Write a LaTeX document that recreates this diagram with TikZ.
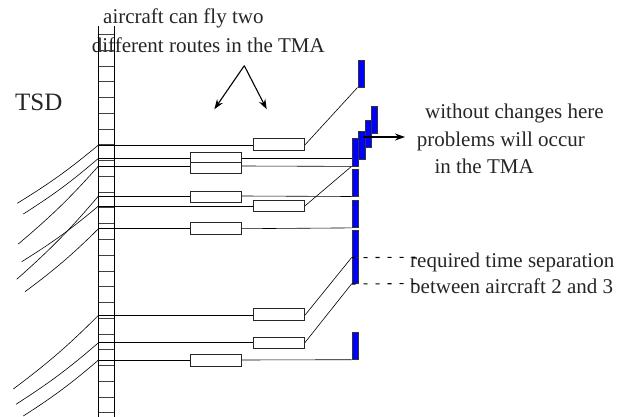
\documentclass[tikz,border=0pt]{standalone}
\usepackage{fontspec}
\setmainfont{Liberation Serif}
\usetikzlibrary{arrows.meta}

\tikzset{
  route/.style={line width=0.6pt},
  rung/.style={line width=0.6pt, black!75},
  slot/.style={draw=black!85, fill=white, line width=0.7pt, minimum width=51pt, minimum height=11.3pt, inner sep=0pt},
  slotbar/.style={draw=black!80, fill=blue, line width=0.5pt, minimum width=6.4pt, minimum height=27.4pt, inner sep=0pt, anchor=north west},
  txt/.style={font=\fontsize{21}{26}\selectfont, text=black!85, inner sep=0pt, anchor=base west},
  gap/.style={line width=1.1pt, dash pattern=on 4pt off 8pt}
}

\begin{document}
\begin{tikzpicture}[x=1pt, y=-1pt, >={Stealth[length=10pt,width=7pt]}]
  \useasboundingbox (0,0) rectangle (622,417);

  % labels
  \node[txt] (fly1) at (103,24) {aircraft can fly two};
  \node[txt] (fly2) at (91.7,52.3) {different routes in the TMA};
  \node[txt, font=\fontsize{25}{30}\selectfont] (tsd) at (15,111) {TSD};
  \node[txt] (warn1) at (425,119) {without changes here};
  \node[txt] (warn2) at (416.7,146.7) {problems will occur};
  \node[txt] (warn3) at (434.3,173.3) {in the TMA};
  \node[txt] (sep1) at (410,267.7) {required time separation};
  \node[txt] (sep2) at (410,293.3) {between aircraft 2 and 3};

  % ladder (time scale)
  \draw[route] (98.5,26) -- (98.5,417);
  \draw[route] (114,26) -- (114,417);
  \foreach \k in {0,...,24}
    \draw[rung] (98.5,{34.3+15.77*\k}) -- (114,{34.3+15.77*\k});

  % arrival bars
  \node[slotbar, minimum height=26.5pt] (t1) at (357.5,60.5) {};
  \node[slotbar] (td) at (370.8,106) {};
  \node[slotbar] (tc) at (364.5,120) {};
  \node[slotbar] (tb) at (358.1,131.3) {};
  \node[slotbar] (ta) at (351.5,138.5) {};
  \node[slotbar] (te) at (351.5,168.6) {};
  \node[slotbar] (tf) at (351.5,200) {};
  \node[slotbar] (tg) at (351.5,229.8) {};
  \node[slotbar, minimum height=26.3pt] (th) at (351.5,257.2) {};
  \node[slotbar] (ti) at (351.5,331.8) {};

  % route entry points on the ladder
  \coordinate (r1) at (98.5,145);
  \coordinate (r2) at (98.5,158.3);
  \coordinate (r3) at (98.5,166);
  \coordinate (r4) at (98.5,196);
  \coordinate (r5) at (98.5,206);
  \coordinate (r6) at (98.5,228.7);
  \coordinate (r7) at (98.5,315.3);
  \coordinate (r8) at (98.5,342.7);
  \coordinate (r9) at (98.5,360);

  % incoming flights
  \coordinate (f1) at (17.3,203.3);
  \coordinate (f2) at (23.3,214);
  \coordinate (f3) at (18.3,244);
  \coordinate (f4) at (16.7,279.3);
  \coordinate (f5) at (21.7,261.7);
  \coordinate (f6) at (25,291.7);
  \coordinate (f7) at (13.3,389);
  \coordinate (f8) at (16,404.3);
  \coordinate (f9) at (23.3,416);
  \foreach \i in {1,...,9}
    \draw[route] (f\i) to[bend right=4] (r\i);

  % route boxes
  \node[slot] (b1) at (279,144.5) {};
  \node[slot] (b2) at (216.2,157.7) {};
  \node[slot, minimum height=11pt] (b3) at (216.2,167.7) {};
  \node[slot] (b4) at (216.2,196.8) {};
  \node[slot] (b5) at (279,205.8) {};
  \node[slot] (b6) at (216.2,228.5) {};
  \node[slot] (b7) at (279,314.2) {};
  \node[slot] (b8) at (279,342.8) {};
  \node[slot] (b9) at (216.2,360.2) {};

  % routes
  \draw[route] (r1) -- (r1 -| b1.west);
  \draw[route] (b1.east |- r1) -- (t1.south west);
  \draw[route] (r2) -- (r2 -| b2.west);
  \draw[route] (b2.east |- r2) -- (ta.west |- r2);
  \draw[route] (r3) -- (r3 -| b3.west);
  \draw[route] (b3.east |- r3) -- (ta.south west);
  \draw[route] (r4) -- (r4 -| b4.west);
  \draw[route] (b4.east |- r4) -- (te.south west);
  \draw[route] (r5) -- (r5 -| b5.west);
  \draw[route] (b5.east |- r5) -- (ta.south west);
  \draw[route] (r6) -- (r6 -| b6.west);
  \draw[route] (b6.east |- r6) -- (tf.south west);
  \draw[route] (r7) -- (r7 -| b7.west);
  \draw[route] (b7.east |- r7) -- (tg.south west);
  \draw[route] (r8) -- (r8 -| b8.west);
  \draw[route] (b8.east |- r8) -- (th.south west);
  \draw[route] (r9) -- (r9 -| b9.west);
  \draw[route] (b9.east |- r9) -- (ti.south west);

  % two routes arrows
  \coordinate (apex) at (244.3,65.7);
  \coordinate (tipl) at (214.3,109.3);
  \coordinate (tipr) at (266.7,109.3);
  \draw[->, line width=1.1pt] (apex) -- (tipl);
  \draw[->, line width=1.1pt] (apex) -- (tipr);

  % problem arrow
  \coordinate (warnstart) at (362.5,137);
  \coordinate (warnend) at (405,137);
  \draw[->, line width=1.1pt] (warnstart) -- (warnend);

  % separation marks
  \coordinate (sepend1) at (421,257.2);
  \coordinate (sepend2) at (421,283.5);
  \draw[gap] (tg.south west) -- (sepend1);
  \draw[gap] (th.south west) -- (sepend2);
\end{tikzpicture}
\end{document}
